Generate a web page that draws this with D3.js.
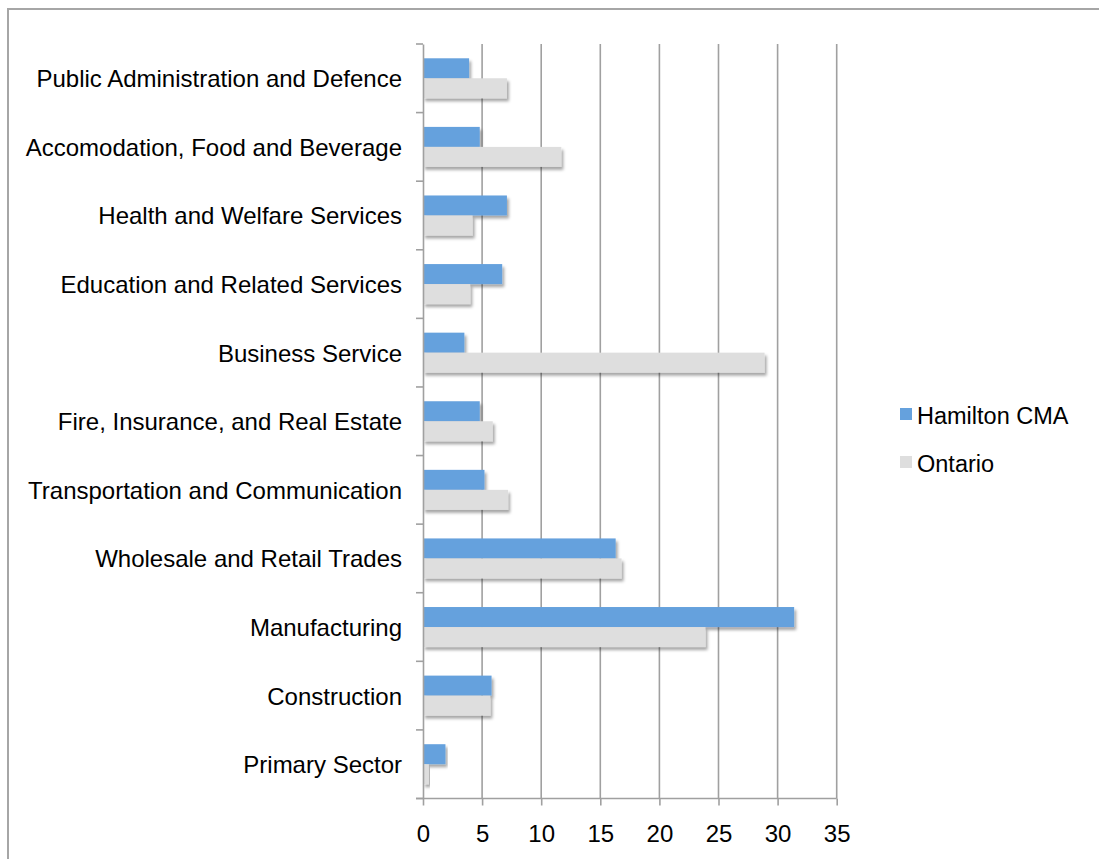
<!DOCTYPE html>
<html><head><meta charset="utf-8">
<script src="https://cdn.jsdelivr.net/npm/d3@7"></script>
<style>
body{margin:0;background:#fff;}
svg text{font-family:"Liberation Sans",Arial,sans-serif;fill:#000;}
</style></head>
<body><svg id="c" width="1099" height="859"></svg>
<script>
const categories = ["Public Administration and Defence","Accomodation, Food and Beverage","Health and Welfare Services","Education and Related Services","Business Service","Fire, Insurance, and Real Estate","Transportation and Communication","Wholesale and Retail Trades","Manufacturing","Construction","Primary Sector"];
const hamilton = [3.9, 4.8, 7.1, 6.7, 3.5, 4.8, 5.2, 16.3, 31.4, 5.8, 1.9];
const ontario  = [7.1, 11.7, 4.2, 4.0, 28.9, 5.9, 7.2, 16.8, 23.9, 5.7, 0.5];
const seriesNames = ["Hamilton CMA","Ontario"];
const seriesColors = ["#65a1dd","#dedede"];
const xTicks = [0,5,10,15,20,25,30,35];

(function(){
const svg = d3.select("#c");
const defs = svg.append("defs");
const f = defs.append("filter").attr("id","sh").attr("x","-5%").attr("y","-30%").attr("width","115%").attr("height","180%");
f.append("feDropShadow").attr("dx",2).attr("dy",3).attr("stdDeviation",1.8).attr("flood-color","#000").attr("flood-opacity",0.35);

// outer frame
svg.append("rect").attr("x",8).attr("y",9).attr("width",1100).attr("height",860)
  .attr("fill","none").attr("stroke","#a6a6a6").attr("stroke-width",2);

const pL=423, pR=836.7, pT=44, pB=798.5;
const x = d3.scaleLinear().domain([0,35]).range([pL,pR]);
const y = d3.scaleBand().domain(categories).range([pT,pB]).paddingInner(0).paddingOuter(0);
const inner = d3.scaleBand().domain(seriesNames).range([0,y.bandwidth()]).paddingInner(0).paddingOuter(0.715);

// gridlines
svg.append("g").selectAll("line").data(xTicks.slice(1)).join("line")
  .attr("x1",d=>x(d)).attr("x2",d=>x(d)).attr("y1",pT).attr("y2",pB)
  .attr("stroke","#a0a0a0").attr("stroke-width",1.6);

// bars
const data = categories.map((c,i)=>({c, vals:[hamilton[i],ontario[i]]}));
const g = svg.append("g");
data.forEach(d=>{
  d.vals.forEach((v,j)=>{
    g.append("rect").attr("x",x(0)).attr("y",y(d.c)+inner(seriesNames[j]))
      .attr("width",x(v)-x(0)).attr("height",inner.bandwidth())
      .attr("fill",seriesColors[j]).attr("filter","url(#sh)");
  });
});

// y axis
const ya = svg.append("g").attr("transform",`translate(${pL},0)`)
  .call(d3.axisLeft(y).tickSize(7).tickSizeOuter(0).tickFormat(""));
ya.select(".domain").attr("stroke","#a0a0a0").attr("stroke-width",1.6);
ya.selectAll(".tick").remove();
const bounds = d3.range(categories.length+1).map(i=>pT+i*y.step());
svg.append("g").selectAll("line").data(bounds).join("line")
  .attr("x1",pL-7).attr("x2",pL).attr("y1",d=>d).attr("y2",d=>d)
  .attr("stroke","#a0a0a0").attr("stroke-width",1.6);
svg.append("g").selectAll("text").data(categories).join("text")
  .attr("x",402).attr("y",d=>y(d)+y.bandwidth()/2+9)
  .attr("text-anchor","end").attr("font-size",24).text(d=>d);

// x axis
const xa = svg.append("g").attr("transform",`translate(0,${pB})`)
  .call(d3.axisBottom(x).tickValues(xTicks).tickSize(7).tickSizeOuter(0).tickFormat(d=>d));
xa.select(".domain").attr("stroke","#a0a0a0").attr("stroke-width",1.6).attr("d",`M${pL-7},0H${pR}`);
xa.selectAll(".tick line").attr("stroke","#a0a0a0").attr("stroke-width",1.6);
xa.selectAll(".tick text").attr("font-size",24).attr("dy",0).attr("y",43)
  .style("font-family","'Liberation Sans',Arial,sans-serif").attr("fill","#000");

// legend
const lg = svg.append("g");
seriesNames.forEach((n,i)=>{
  const yy = 408 + i*48;
  lg.append("rect").attr("x",900).attr("y",yy).attr("width",12).attr("height",12).attr("fill",seriesColors[i]);
  lg.append("text").attr("x",917).attr("y",yy+16).attr("font-size",23.5).text(n);
});
})();
</script></body></html>
